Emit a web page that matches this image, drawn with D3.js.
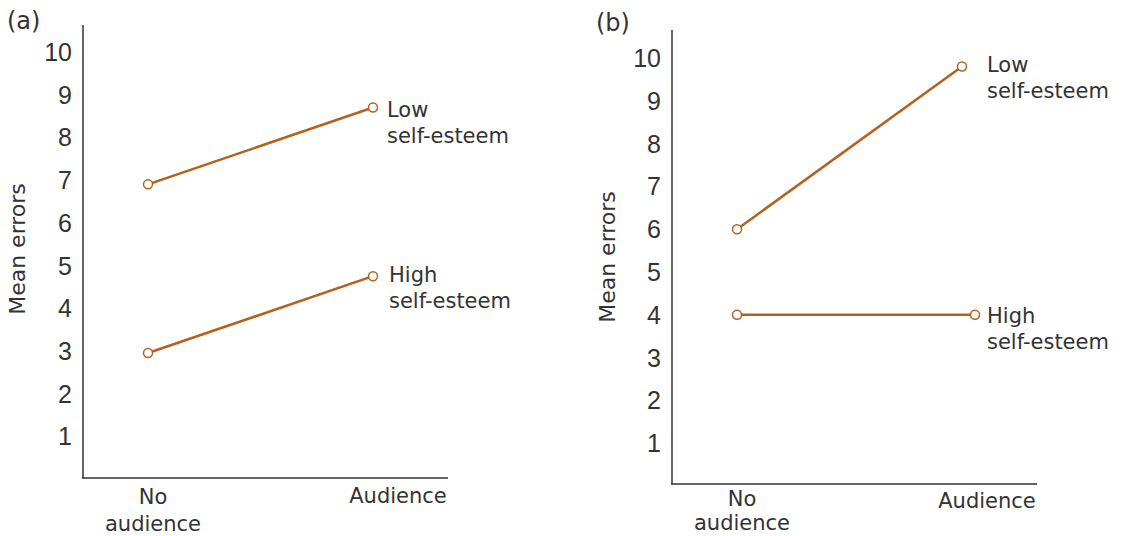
<!DOCTYPE html>
<html>
<head>
<meta charset="utf-8">
<script src="https://cdn.jsdelivr.net/npm/d3@7"></script>
<style>
  html, body { margin: 0; padding: 0; background: #fff; }
  svg { display: block; }
  text { font-family: "DejaVu Sans", "Noto Sans", sans-serif; fill: #333; }
  .tick-num { font-family: "Liberation Sans Narrow", "Liberation Sans", sans-serif; }
</style>
</head>
<body>
<svg id="chart" width="1123" height="536"></svg>
<script>
// Conditions on the x axis
const conditions = ["No audience", "Audience"];
const conditionLines = [["No", "audience"], ["Audience"]];

// Mean errors, panel (a)
const aLowSelfEsteem = [6.9, 8.7];
const aHighSelfEsteem = [2.95, 4.75];

// Mean errors, panel (b)
const bLowSelfEsteem = [6.0, 9.8];
const bHighSelfEsteem = [4.0, 4.0];

// Series labels and y ticks
const seriesLabels = [["Low", "self-esteem"], ["High", "self-esteem"]];
const yTicks = [1, 2, 3, 4, 5, 6, 7, 8, 9, 10];
const yTitle = "Mean errors";
const panelTags = ["(a)", "(b)"];

const COLOR = "#b5601c";
const INK = "#333";

const svg = d3.select("#chart");

// Layout for each panel
const panels = [
  {
    tag: panelTags[0], series: [aLowSelfEsteem, aHighSelfEsteem],
    axisX: 83, axisTop: 25, axisBottom: 478, xEnd: 448,
    y0: 479, y10: 52, xNo: 148, xAud: 373, audNudge: [0, 0],
    tagX: 7, tagY: 29, titleX: 25, titleY: 249,
    tickRight: 72,
    seriesLabelDX: [14, 16], seriesLabelDY: [9, 6],
    catDX: [5, 25], catY: [504, 503], catGap: 27,
  },
  {
    tag: panelTags[1], series: [bLowSelfEsteem, bHighSelfEsteem],
    axisX: 672, axisTop: 30, axisBottom: 484, xEnd: 1037,
    y0: 486, y10: 58, xNo: 737, xAud: 962, audNudge: [0, 13],
    tagX: 596, tagY: 31, titleX: 615, titleY: 257,
    tickRight: 661,
    seriesLabelDX: [25, 12], seriesLabelDY: [5, 8],
    catDX: [5, 25], catY: [506, 508], catGap: 24,
  }
];

panels.forEach(p => {
  const g = svg.append("g");

  const y = d3.scaleLinear().domain([0, 10]).range([p.y0, p.y10]);

  // Panel tag
  g.append("text").attr("x", p.tagX).attr("y", p.tagY)
    .style("font-size", "24px").text(p.tag);

  // Y axis line and tick numbers
  g.append("line")
    .attr("x1", p.axisX).attr("x2", p.axisX)
    .attr("y1", p.axisTop).attr("y2", p.axisBottom + 0.75)
    .attr("stroke", INK).attr("stroke-width", 1.5);

  g.selectAll(".tick-num").data(yTicks).join("text")
    .attr("class", "tick-num")
    .attr("x", p.tickRight).attr("y", d => y(d))
    .attr("dy", "0.36em")
    .attr("text-anchor", "end")
    .style("font-size", "25px")
    .text(d => d);

  // Y axis title
  g.append("text")
    .attr("transform", `translate(${p.titleX},${p.titleY}) rotate(-90)`)
    .attr("text-anchor", "middle")
    .style("font-size", "22px")
    .text(yTitle);

  // X axis line
  g.append("line")
    .attr("x1", p.axisX - 0.75).attr("x2", p.xEnd)
    .attr("y1", p.axisBottom).attr("y2", p.axisBottom)
    .attr("stroke", INK).attr("stroke-width", 1.5);

  const x = d3.scalePoint().domain(conditions).range([p.xNo, p.xAud]);

  // Condition labels
  conditions.forEach((c, i) => {
    const t = g.append("text")
      .attr("text-anchor", "middle")
      .style("font-size", "21px");
    conditionLines[i].forEach((line, k) => {
      t.append("tspan")
        .attr("x", x(c) + p.catDX[i])
        .attr("y", p.catY[i] + k * p.catGap)
        .text(line);
    });
  });

  // Series lines, markers and end labels
  p.series.forEach((vals, si) => {
    const xs = d3.scalePoint().domain(conditions)
      .range([p.xNo, p.xAud + p.audNudge[si]]);
    const pts = conditions.map((c, i) => ({ c, v: vals[i] }));

    g.append("path")
      .datum(pts)
      .attr("fill", "none")
      .attr("stroke", COLOR)
      .attr("stroke-width", 2.5)
      .attr("d", d3.line().x(d => xs(d.c)).y(d => y(d.v)));

    g.selectAll(null).data(pts).join("circle")
      .attr("cx", d => xs(d.c)).attr("cy", d => y(d.v))
      .attr("r", 4.5)
      .attr("fill", "#fff")
      .attr("stroke", COLOR)
      .attr("stroke-width", 1.5);

    const last = pts[pts.length - 1];
    const lx = xs(last.c) + p.seriesLabelDX[si];
    const ly = y(last.v) + p.seriesLabelDY[si];
    const t = g.append("text").style("font-size", "21px");
    seriesLabels[si].forEach((line, k) => {
      t.append("tspan").attr("x", lx).attr("y", ly + k * 26).text(line);
    });
  });
});
</script>
</body>
</html>
